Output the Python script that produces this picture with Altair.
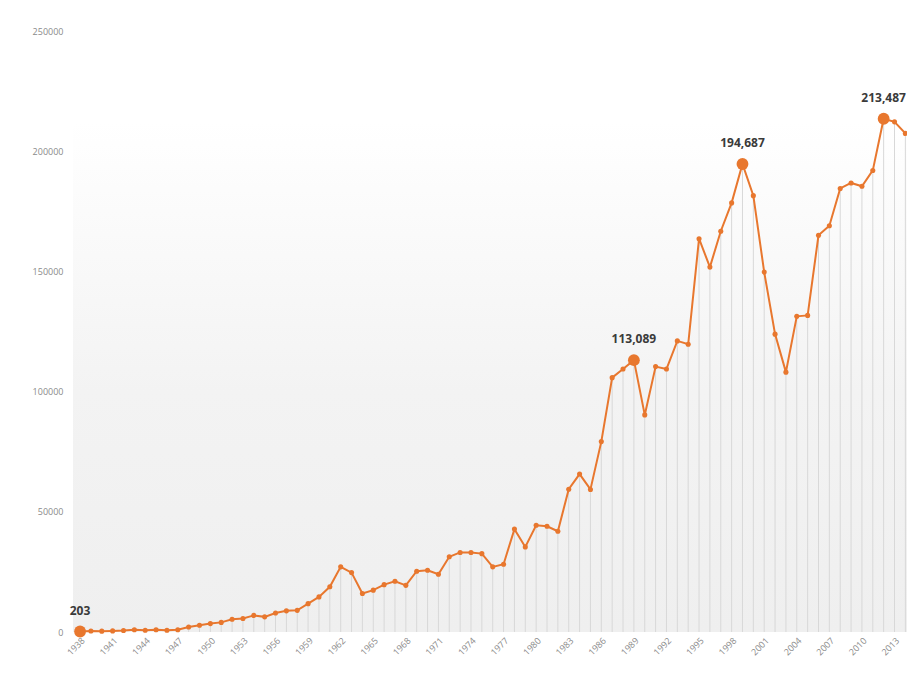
import altair as alt
import pandas as pd

years = list(range(1938, 2015))
values = [
    203, 400, 350, 450, 600, 950, 750, 950, 750, 950,            # 1938-1947
    2100, 2800, 3500, 4000, 5300, 5600, 6900, 6300, 7900, 8800,  # 1948-1957
    9000, 11800, 14600, 18800, 27100, 24700, 16000, 17400, 19700, 21100,  # 1958-1967
    19400, 25300, 25700, 24000, 31300, 33100, 33100, 32600, 27100, 28200,  # 1968-1977
    42800, 35400, 44400, 44000, 41900, 59400, 65700, 59300, 79200, 105800,  # 1978-1987
    109400, 113089, 90300, 110400, 109400, 121100, 119700, 163600, 151800, 166700,  # 1988-1997
    178500, 194687, 181500, 149700, 123900, 108100, 131300, 131700, 165000, 169000,  # 1998-2007
    184500, 186800, 185400, 192000, 213487, 212200, 207400,  # 2008-2014
]
tick_years = list(range(1938, 2014, 3))
y_ticks = [0, 50000, 100000, 150000, 200000, 250000]
highlight_years = [1938, 1989, 1999, 2012]
highlight_labels = ["203", "113,089", "194,687", "213,487"]

df = pd.DataFrame({"year": years, "value": values})
hl = pd.DataFrame({
    "year": highlight_years,
    "value": [values[years.index(y)] for y in highlight_years],
    "label": highlight_labels,
})

W, H = 834, 601
ORANGE = "#E8772E"

xscale = alt.Scale(domain=[1937.35, 2014.15], nice=False, zero=False)
yscale = alt.Scale(domain=[0, 250000], nice=False)

x = alt.X("year:Q", scale=xscale, title=None,
          axis=alt.Axis(values=tick_years, format="d", labelAngle=-45,
                        labelFontSize=9, labelColor="#8a8a8a", labelFont="Open Sans",
                        domain=False, ticks=False, grid=False, labelPadding=4,
                        labelOverlap=False))
y = alt.Y("value:Q", scale=yscale, title=None,
          axis=alt.Axis(values=y_ticks, format="d", labelFontSize=9,
                        labelColor="#8a8a8a", labelFont="Open Sans",
                        domain=False, ticks=False, grid=False, labelPadding=10))

bg = alt.Chart(pd.DataFrame({"a": [0]})).mark_rect(
    fill=alt.Gradient(gradient="linear",
                      stops=[alt.GradientStop(color="#ffffff", offset=0),
                             alt.GradientStop(color="#ffffff", offset=0.15),
                             alt.GradientStop(color="#f3f3f3", offset=0.6),
                             alt.GradientStop(color="#efefef", offset=1)],
                      x1=0, x2=0, y1=0, y2=1)
).encode(x=alt.value(0), x2=alt.value(W), y=alt.value(0), y2=alt.value(H))

base = alt.Chart(df)
rules = base.mark_rule(color="#d8d8d8", strokeWidth=1).encode(x=x, y=y, y2=alt.datum(0))
line = base.mark_line(color=ORANGE, strokeWidth=2).encode(x=x, y=y)
pts = base.mark_circle(color=ORANGE, size=26, opacity=1).encode(x=x, y=y)

hb = alt.Chart(hl)
big = hb.mark_circle(color=ORANGE, size=140, opacity=1).encode(x=x, y=y)
txt = hb.mark_text(dy=-14, baseline="bottom", fontWeight="bold", fontSize=12,
                   color="#3a3a3a", font="Open Sans").encode(x=x, y=y, text="label:N")

chart = alt.layer(bg, rules, line, pts, big, txt).properties(
    width=W, height=H,
    autosize=alt.AutoSizeParams(type="none"),
    padding={"left": 65, "top": 23, "right": 0, "bottom": 32},
).configure_view(stroke=None)

chart.save("out.html", embed_options={"renderer": "svg", "actions": False})
